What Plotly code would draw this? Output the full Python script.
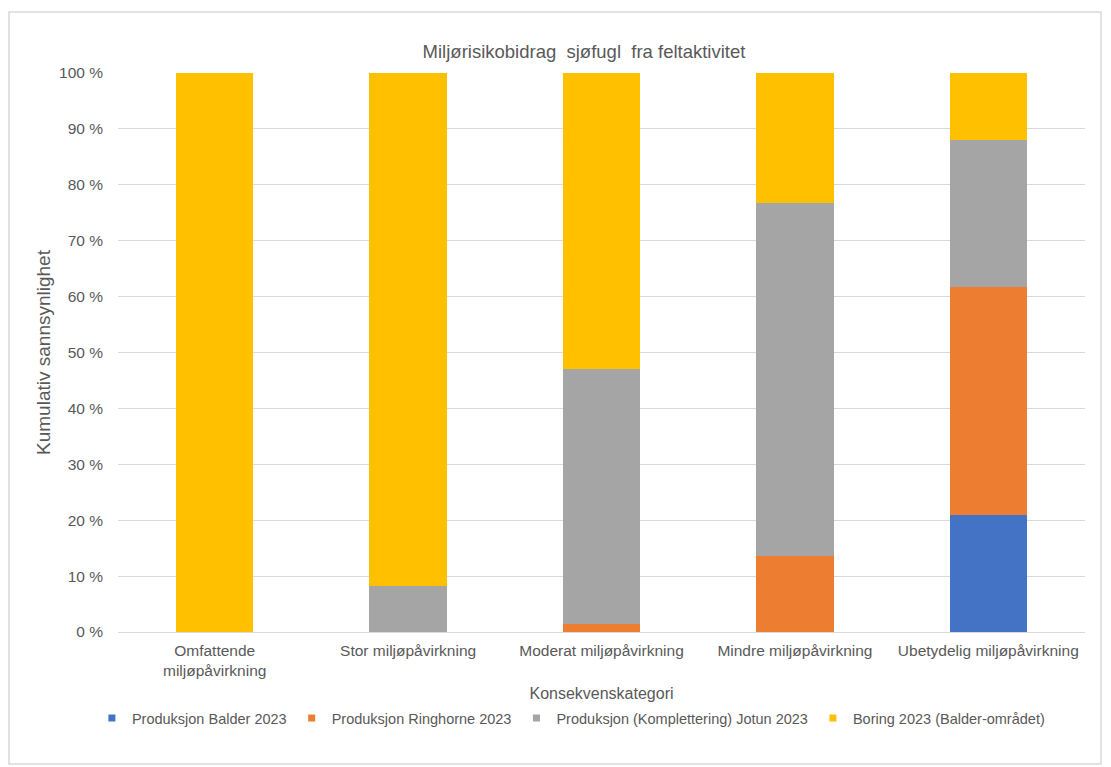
import plotly.graph_objects as go

categories = ["Omfattende<br>miljøpåvirkning", "Stor miljøpåvirkning", "Moderat miljøpåvirkning",
              "Mindre miljøpåvirkning", "Ubetydelig miljøpåvirkning"]
balder = [0, 0, 0, 0, 20.9]
ringhorne = [0, 0, 1.4, 13.6, 40.9]
jotun = [0, 8.3, 45.6, 63.1, 26.3]
boring = [100, 91.7, 53.0, 23.3, 11.9]

series = [
    ("Produksjon Balder 2023", balder, "#4472C4"),
    ("Produksjon Ringhorne 2023", ringhorne, "#ED7D31"),
    ("Produksjon (Komplettering) Jotun 2023", jotun, "#A5A5A5"),
    ("Boring 2023 (Balder-området)", boring, "#FFC000"),
]

fig = go.Figure()
for name, vals, col in series:
    fig.add_trace(go.Bar(x=categories, y=vals, name=name, showlegend=False,
                         marker=dict(color=col, line=dict(width=0))))
# legend entries with small square markers
for name, vals, col in series:
    fig.add_trace(go.Scatter(x=[None], y=[None], mode="markers", name=name,
                             marker=dict(symbol="square", size=7, color=col)))

fontc = "#595959"
fig.update_layout(
    barmode="stack",
    bargap=0.6,
    width=1111, height=767,
    margin=dict(l=118, r=26, t=73, b=135),
    paper_bgcolor="white", plot_bgcolor="white",
    font=dict(family="Liberation Sans, Arial, sans-serif", color=fontc, size=15),
    title=dict(text="Miljørisikobidrag  sjøfugl  fra feltaktivitet", x=584 / 1111, xanchor="center",
               y=1 - 52 / 767, yanchor="middle", font=dict(size=18.5, color=fontc)),
    xaxis=dict(title=dict(text="Konsekvenskategori", font=dict(size=16, color=fontc), standoff=10),
               showline=True, linecolor="#D9D9D9", linewidth=1, ticks="", ticklabelstandoff=4,
               tickfont=dict(size=15.5, color=fontc)),
    yaxis=dict(title=dict(text="Kumulativ sannsynlighet", font=dict(size=19, color=fontc), standoff=3),
               range=[0, 100], dtick=10, ticksuffix=" %", showgrid=True, gridcolor="#D9D9D9",
               zeroline=False, ticklabelstandoff=14, tickfont=dict(size=15.5, color=fontc)),
    legend=dict(orientation="h", traceorder="normal", x=-0.027, xanchor="left", y=-0.154, yanchor="middle",
                font=dict(size=14.5, color=fontc), itemwidth=30, tracegroupgap=0),
    showlegend=True,
)
fig.add_shape(type="rect", xref="paper", yref="paper",
              x0=(9 - 118) / 967, x1=(1101 - 118) / 967,
              y0=(632 - 764) / 559, y1=(632 - 12) / 559,
              line=dict(color="#D9D9D9", width=1.5), fillcolor="rgba(0,0,0,0)", layer="below")

fig.write_html("out.html")
